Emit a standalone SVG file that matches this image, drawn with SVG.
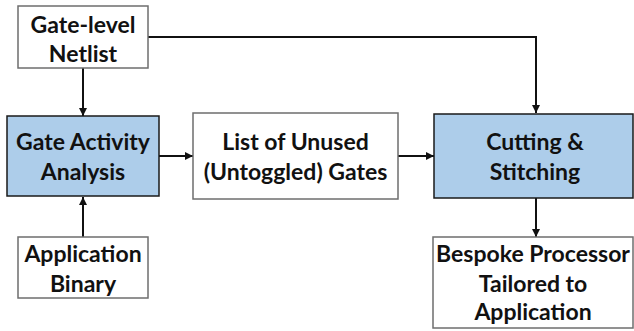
<svg xmlns="http://www.w3.org/2000/svg" width="634" height="331" viewBox="0 0 634 331">
<style>
.w{fill:#fff;stroke:#6e6e6e;stroke-width:1.5}
.b{fill:#adcdea;stroke:#1a1a1a;stroke-width:1.5}
.t{font-family:Lato,"Liberation Sans",sans-serif;font-weight:bold;font-size:23px;fill:#111;text-anchor:middle}
.c{fill:none;stroke:#111;stroke-width:2}
</style>
<defs>
<marker id="a" viewBox="0 0 8 8" refX="8" refY="4" markerWidth="4" markerHeight="4" orient="auto" markerUnits="strokeWidth">
<path d="M0,0 L8,4 L0,8 z" fill="#111"/>
</marker>
</defs>
<g id="connectors">
<path class="c" d="M83,68 V116" marker-end="url(#a)"/>
<path class="c" d="M148,37 H536 V113" marker-end="url(#a)"/>
<path class="c" d="M83,237 V197" marker-end="url(#a)"/>
<path class="c" d="M159,156 H193" marker-end="url(#a)"/>
<path class="c" d="M398,156 H434" marker-end="url(#a)"/>
<path class="c" d="M536,198 V237" marker-end="url(#a)"/>
</g>
<g id="netlist">
<rect class="w" x="18" y="6" width="130" height="62"/>
<text class="t" x="83" y="33">Gate-level</text>
<text class="t" x="83" y="62">Netlist</text>
</g>
<g id="activity">
<rect class="b" x="7" y="116" width="152" height="80"/>
<text class="t" x="83" y="150">Gate Activity</text>
<text class="t" x="83" y="180">Analysis</text>
</g>
<g id="unused">
<rect class="w" x="193" y="113" width="205" height="86"/>
<text class="t" x="295.5" y="150">List of Unused</text>
<text class="t" x="295.5" y="180">(Untoggled) Gates</text>
</g>
<g id="cutting">
<rect class="b" x="434" y="114" width="199" height="84"/>
<text class="t" x="535" y="150">Cutting &amp;</text>
<text class="t" x="535" y="180">Stitching</text>
</g>
<g id="binary">
<rect class="w" x="18" y="237" width="130" height="61"/>
<text class="t" x="83" y="262">Application</text>
<text class="t" x="83" y="292">Binary</text>
</g>
<g id="bespoke">
<rect class="w" x="433" y="237" width="200" height="91"/>
<text class="t" x="533" y="262">Bespoke Processor</text>
<text class="t" x="533" y="292">Tailored to</text>
<text class="t" x="533" y="320">Application</text>
</g>
</svg>
